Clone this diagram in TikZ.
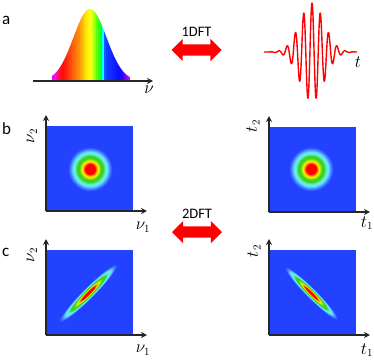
\documentclass[tikz,border=0pt]{standalone}
\usepackage[no-math]{fontspec}
\setmainfont{Carlito}
\usepackage{graphicx}
\usepackage{tikz}
\usetikzlibrary{arrows.meta,shapes.arrows,positioning}

\definecolor{bgblue}{RGB}{34,66,255}
\definecolor{jetorange}{RGB}{255,140,0}
\definecolor{jetyellow}{RGB}{255,240,0}
\definecolor{jetlime}{RGB}{150,230,20}
\definecolor{jetgreen}{RGB}{60,210,30}
\definecolor{jetaqua}{RGB}{90,240,200}
\definecolor{jetcyan}{RGB}{110,230,255}
\definecolor{jetsky}{RGB}{70,140,255}
\pgfdeclareradialshading{jetspot}{\pgfpoint{0bp}{0bp}}{%
  color(0bp)=(red); color(5bp)=(red); color(6.5bp)=(jetorange);
  color(8bp)=(jetyellow); color(9.5bp)=(jetlime); color(11bp)=(jetgreen);
  color(13bp)=(jetgreen); color(15bp)=(jetaqua); color(17bp)=(jetcyan);
  color(19.5bp)=(jetsky); color(22bp)=(bgblue); color(50bp)=(bgblue)}

\begin{document}
\begin{tikzpicture}[x=1pt, y=1pt]
    	\tikzstyle{axis}=[draw=black!85, line width=1.2pt, -{Stealth[length=6pt, width=6pt]}]
    	\tikzstyle{dens}=[fill=bgblue, minimum width=87pt, minimum height=85pt, inner sep=0pt, anchor=south west]
    	\tikzstyle{dftarrow}=[shape=double arrow, fill=red, minimum height=50pt, minimum width=22pt, inner sep=0pt, text height=11pt, text depth=0pt, double arrow head extend=5.5pt]
    	\tikzstyle{panel}=[font=\fontsize{17}{20}\selectfont, inner sep=0pt, anchor=west]
    	\tikzstyle{dft}=[font=\fontsize{14.5}{17}\selectfont]
    	\tikzstyle{lab}=[font=\fontsize{16}{19}\selectfont, inner sep=0pt]
    	\tikzstyle{wave}=[draw=red, line width=1.4pt, line join=round]

    	\useasboundingbox (0,0) rectangle (374,-359);

    	% Panel letters
    	\node[panel] (let_a) at (2,-20) {a};
    	\node[panel] (let_b) at (2,-129) {b};
    	\node[panel] (let_c) at (2,-252) {c};

    	% Spectrum
    	\begin{scope}
    		\clip (52,-81) -- plot[domain=52:130, samples=80] (\x, {-81+72*exp(-((\x-90)*(\x-90))/544.5)}) -- (130,-81) -- cycle;
    		\foreach \x/\h in {52/290,54/305,56/320,58/340,60/355,62/0,64/3,66/7,68/12,70/16,72/20,74/24,76/28,78/32,80/37,82/43,84/50,86/55,88/58,90/62,92/70,94/85,96/100,98/110,100/125,102/180,104/220,106/228,108/230,110/232,112/234,114/236,116/238,118/240,120/242,122/248,124/260,126/270,128/280}
    		{
    			\definecolor{strip}{Hsb}{\h,0.95,1}
    			\fill[strip] (\x,-81) rectangle (\x+2.1,0);
    		}
    	\end{scope}
    	\coordinate (nu_o) at (33,-81);
    	\coordinate (nu_e) at (153,-81);
    	\draw[axis] (nu_o) -- (nu_e);
    	\node[lab] (nu_lab) at (149,-90) {$\nu$};

    	% Time signal
    	\draw[wave] plot[domain=264:357, samples=400] (\x, {-52+49*exp(-((\x-312)*(\x-312))/297.7)*cos((\x-312)*43.373)});
    	\node[lab] (t_lab) at (358,-62) {$t$};

    	% Fourier transform arrows
    	\node[dftarrow] (dft_1) at (196.5,-50) {};
    	\node[dft, above=4pt of dft_1] (dft_1txt) {1DFT};
    	\node[dftarrow] (dft_2) at (197,-232) {};
    	\node[dft, above=4pt of dft_2] (dft_2txt) {2DFT};

    	% Density squares
    	\foreach \n/\px/\py in {b1/46/211, b2/269/212, c1/46/335, c2/269/335}
    		\node[dens] (sq_\n) at (\px,-\py) {};

    	% Peaks
    	\shade[shading=jetspot] (90,-169) circle (25);
    	\shade[shading=jetspot] (311,-169) circle (25);
    	\begin{scope}[transform canvas={shift={(88,-293)}, rotate=45}]
    		\shade[shading=jetspot] (0,0) ellipse (46 and 6.5);
    	\end{scope}
    	\begin{scope}[transform canvas={shift={(311,-293)}, rotate=-45}]
    		\shade[shading=jetspot] (0,0) ellipse (42 and 5.8);
    	\end{scope}

    	% Axes
    	\foreach \n/\px/\py/\lx/\xa/\ya/\ly/\xb/\yb in {b1/46/211/\nu_1/143/227/\nu_2/32/136, b2/269/212/t_1/367/223/t_2/253/126, c1/46/335/\nu_1/143/350/\nu_2/32/255, c2/269/335/t_1/367/350/t_2/254/251}
    	{
    		\coordinate (org_\n) at (\px,-\py);
    		\coordinate (top_\n) at (\px,-\py+96);
    		\coordinate (end_\n) at (\px+101,-\py);
    		\draw[axis] (org_\n) -- (top_\n);
    		\draw[axis] (org_\n) -- (end_\n);
    		\node[lab] (xl_\n) at (\xa,-\ya) {$\lx$};
    		\node[lab] (yl_\n) at (\xb,-\yb) {\rotatebox{90}{$\ly$}};
    	}
\end{tikzpicture}
\end{document}
